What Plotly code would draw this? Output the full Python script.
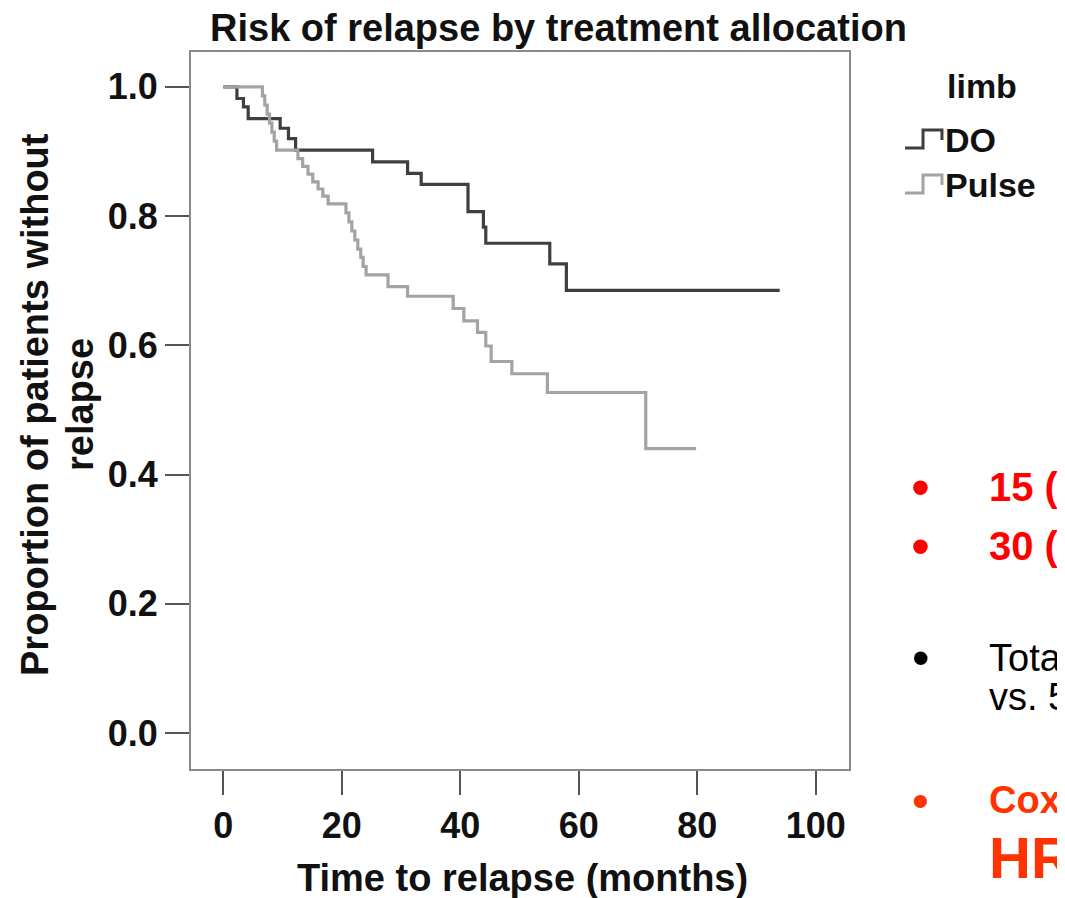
import plotly.graph_objects as go

# ---- data ----
do_time = [0, 2.3, 3.4, 4.2, 9.6, 11.0, 12.2, 25.2, 31.1, 33.4, 41.3, 43.9, 44.3, 55.1, 57.9, 93.9]
do_surv = [1.0, 0.982, 0.969, 0.951, 0.936, 0.920, 0.902, 0.884, 0.866, 0.849, 0.807, 0.783, 0.758, 0.726, 0.685, 0.685]

pulse_time = [0, 6.6, 7.0, 7.4, 7.8, 8.2, 8.6, 9.0, 12.6, 13.4, 14.3, 15.1, 16.0, 16.8, 17.7,
              20.7, 21.2, 21.7, 22.2, 22.7, 23.2, 23.6, 24.1, 27.8, 31.1, 38.8, 40.6, 42.9,
              44.3, 45.2, 48.7, 54.7, 71.3, 79.8]
pulse_surv = [1.0, 0.986, 0.972, 0.958, 0.944, 0.930, 0.916, 0.902, 0.889, 0.877, 0.865, 0.853, 0.842, 0.831, 0.819,
              0.805, 0.791, 0.777, 0.763, 0.749, 0.736, 0.722, 0.709, 0.691, 0.676, 0.657, 0.638, 0.620,
              0.599, 0.575, 0.556, 0.527, 0.440, 0.440]

x_ticks = [0, 20, 40, 60, 80, 100]
y_ticks = [0.0, 0.2, 0.4, 0.6, 0.8, 1.0]
series_names = ["DO", "Pulse"]
legend_title = "limb"

DARK = "#3f3f3f"
GRAY = "#a3a3a3"
FONT = "Liberation Sans, Arial, sans-serif"

# page body has an 8px default margin: work in reference-pixel coords and shift
OFF = 8
W, H = 1065 - OFF, 898 - OFF
L, R, T, B = 191 - OFF, 849 - OFF, 52 - OFF, 769 - OFF


def px(x):
    return (x - OFF - L) / (R - L)


def py(y):
    return (B - (y - OFF)) / (B - T)


fig = go.Figure()
fig.add_trace(go.Scatter(x=do_time, y=do_surv, mode="lines", line=dict(shape="hv", color=DARK, width=3.2),
                         name=series_names[0], showlegend=False))
fig.add_trace(go.Scatter(x=pulse_time, y=pulse_surv, mode="lines", line=dict(shape="hv", color=GRAY, width=3.2),
                         name=series_names[1], showlegend=False))

axis_common = dict(showline=True, linecolor="#8a8a8a", linewidth=2, mirror=True, showgrid=False, zeroline=False,
                   ticks="outside", ticklen=24, tickwidth=2, tickcolor="#555555",
                   tickfont=dict(family=FONT, size=36, color="#111111", weight="bold"))

fig.update_xaxes(range=[-5.45, 105.6], tickvals=x_ticks, ticktext=[str(v) for v in x_ticks], **axis_common)
fig.update_yaxes(range=[-0.0557, 1.054], tickvals=y_ticks, ticktext=[f"{v:.1f}" for v in y_ticks], **axis_common)

ann = []
ann.append(dict(text="<b>Risk of relapse by treatment allocation</b>", x=px(558), y=py(28), xref="paper", yref="paper",
                showarrow=False, font=dict(family=FONT, size=38, color="#111111"), xanchor="center", yanchor="middle"))
ann.append(dict(text="<b>Time to relapse (months)</b>", x=px(522), y=py(878), xref="paper", yref="paper",
                showarrow=False, font=dict(family=FONT, size=38, color="#111111"), xanchor="center", yanchor="middle"))
ann.append(dict(text="<b>Proportion of patients without</b>", x=px(35), y=py(405), xref="paper", yref="paper",
                showarrow=False, textangle=-90, font=dict(family=FONT, size=38, color="#111111"),
                xanchor="center", yanchor="middle"))
ann.append(dict(text="<b>relapse</b>", x=px(80), y=py(405), xref="paper", yref="paper",
                showarrow=False, textangle=-90, font=dict(family=FONT, size=38, color="#111111"),
                xanchor="center", yanchor="middle"))

# legend (custom, step glyphs)
ann.append(dict(text="<b>" + legend_title + "</b>", x=px(945), y=py(86), xref="paper", yref="paper",
                showarrow=False, font=dict(family=FONT, size=34, color="#111111"), xanchor="left", yanchor="middle"))
shapes = []
for i, (nm, col) in enumerate(zip(series_names, [DARK, GRAY])):
    yc = 140 + i * 45
    ann.append(dict(text="<b>" + nm + "</b>", x=px(943), y=py(yc), xref="paper", yref="paper",
                    showarrow=False, font=dict(family=FONT, size=34, color="#111111"), xanchor="left",
                    yanchor="middle"))
    path = "M {:.4f},{:.4f} L {:.4f},{:.4f} L {:.4f},{:.4f} L {:.4f},{:.4f} L {:.4f},{:.4f}".format(
        px(905), py(yc + 8), px(923), py(yc + 8), px(923), py(yc - 10), px(942), py(yc - 10), px(942), py(yc))
    shapes.append(dict(type="path", path=path, xref="paper", yref="paper", line=dict(color=col, width=3)))

# right-hand slide text (cut off by the page edge)
RED = "#ff0000"
ORG = "#ff3300"
side = [
    ("<b>15 (</b>", RED, 487, 40, 54),
    ("<b>30 (</b>", RED, 546, 40, 54),
    ("Tota", "#000000", 658, 38, 50),
    ("<b>Cox</b>", ORG, 800, 38, 48),
]
for txt, col, yc, sz, bsz in side:
    ann.append(dict(text="•", x=px(921), y=py(yc), xref="paper", yref="paper", showarrow=False,
                    font=dict(family=FONT, size=bsz, color=col), xanchor="center", yanchor="middle"))
    ann.append(dict(text=txt, x=px(987), y=py(yc), xref="paper", yref="paper", showarrow=False,
                    font=dict(family=FONT, size=sz, color=col), xanchor="left", yanchor="middle"))
ann.append(dict(text="vs. 5", x=px(987), y=py(697), xref="paper", yref="paper", showarrow=False,
                font=dict(family=FONT, size=38, color="#000000"), xanchor="left", yanchor="middle"))
ann.append(dict(text="<b>HR</b>", x=px(987), y=py(857), xref="paper", yref="paper", showarrow=False,
                font=dict(family=FONT, size=58, color=ORG), xanchor="left", yanchor="middle"))

fig.update_layout(width=W, height=H, margin=dict(l=L, r=W - R, t=T, b=H - B, pad=0),
                  paper_bgcolor="white", plot_bgcolor="white", annotations=ann, shapes=shapes,
                  showlegend=False)

fig.write_html("out.html")
